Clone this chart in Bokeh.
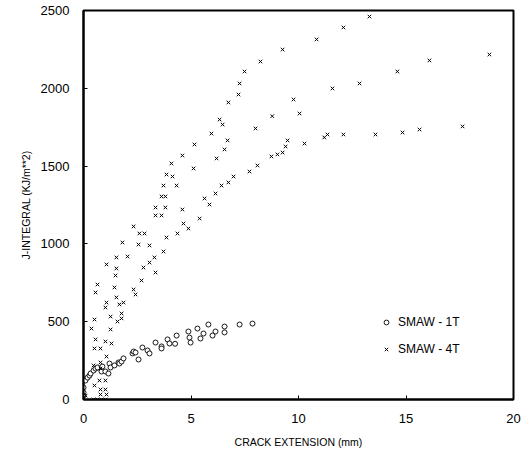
from bokeh.plotting import figure
from bokeh.models import Range1d, FixedTicker, Legend, LegendItem
from bokeh.embed import file_html
from bokeh.resources import INLINE

# SMAW - 1T (crack extension mm, J-integral kJ/m^2)
x_1t = [0, 0, 0, 0.09, 0.19, 0.28, 0.33, 0.47, 0.56, 0.65, 0.88, 0.84, 1.02, 1.16,
        1.21, 1.26, 1.44, 1.63, 1.67, 1.77, 1.86, 2.28, 2.33, 2.42, 2.56, 2.74, 2.98,
        3.07, 3.35, 3.63, 3.63, 3.91, 4.0, 4.26, 4.33, 4.88, 4.93, 4.98, 5.3, 5.44,
        5.58, 5.81, 6.0, 6.14, 6.56, 6.56, 7.26, 7.86]
j_1t = [77, 45, 26, 122, 141, 154, 167, 186, 199, 206, 212, 180, 180, 167,
        231, 206, 219, 238, 231, 244, 264, 296, 308, 302, 257, 334, 315,
        296, 366, 341, 328, 386, 360, 358, 411, 437, 398, 366, 456, 392,
        424, 482, 411, 437, 469, 431, 482, 488]

# SMAW - 4T
x_4t = [13.3, 12.09, 10.84, 9.26, 8.23, 7.49, 7.26, 7.21, 6.74, 6.33, 6.47, 5.95, 5.16,
        4.6, 4.09, 3.86, 4.14, 3.72, 4.33, 3.63, 3.81, 3.35, 3.81, 3.35, 3.63, 2.33,
        2.6, 2.84, 1.81, 2.56, 2.05, 1.53, 1.07, 1.53, 1.49, 0.65, 1.44, 0.56, 1.53,
        1.07, 1.86, 1.67, 1.02, 1.77, 1.26, 1.58, 1.77, 0.51, 0.37, 1.26, 0.56, 1.02,
        1.3, 0.51, 0.79, 1.07, 0.79, 0.47, 0.79, 0.74, 1.02, 0.51, 0.79, 1.02, 0.79,
        1.07, 0.47, 0.65, 0.84, 1.02, 0.0, 0.1,
        18.88, 16.09, 14.6, 12.84, 11.58, 9.77, 10.05, 8.78, 8.0, 6.7, 6.56, 6.19,
        5.12, 6.14, 5.63, 5.86, 5.4, 4.6, 4.65, 4.88, 4.37, 3.86, 3.72, 3.3, 3.07,
        3.07, 2.79, 3.35, 2.7, 2.33, 2.42,
        17.63, 15.63, 14.84, 13.58, 12.09, 11.35, 11.2, 10.28, 9.49, 9.4, 9.26, 9.02,
        8.74, 8.09, 7.72, 6.98, 6.74, 6.42]
j_4t = [2461, 2391, 2314, 2249, 2172, 2108, 2031, 1960, 1909, 1799, 1767, 1709, 1639,
        1568, 1517, 1446, 1433, 1375, 1375, 1305, 1305, 1234, 1234, 1183, 1183, 1112,
        1067, 1067, 1009, 996, 919, 913, 868, 842, 797, 739, 720, 688, 656,
        623, 623, 611, 591, 553, 533, 501, 521, 514, 456, 450, 386, 373,
        360, 328, 328, 276, 238, 219, 199, 122, 122, 90, 64, 64, 32,
        32, 0, 0, 0, 0, 0, 25,
        2217, 2179, 2108, 2031, 1999, 1928, 1838, 1821, 1742, 1665, 1607, 1549,
        1485, 1324, 1292, 1253, 1163, 1221, 1131, 1099, 1067, 1041, 951, 913, 880,
        990, 848, 816, 765, 707, 675,
        1755, 1735, 1716, 1703, 1703, 1703, 1684, 1645, 1665, 1626, 1587, 1575,
        1562, 1504, 1465, 1433, 1395, 1375]

x_ticks = [0, 5, 10, 15, 20]
y_ticks = [0, 500, 1000, 1500, 2000, 2500]

FONT = "Liberation Sans"

p = figure(width=528, height=456, output_backend="svg", toolbar_location=None,
           x_range=Range1d(0, 20), y_range=Range1d(0, 2500),
           min_border_left=83, min_border_right=15, min_border_top=10,
           min_border_bottom=57)
p.background_fill_color = "white"
p.border_fill_color = "white"
p.grid.visible = False
p.outline_line_color = "black"
p.outline_line_width = 2

for ax in (p.xaxis[0], p.yaxis[0]):
    ax.axis_line_color = "black"
    ax.axis_line_width = 2
    ax.major_tick_in = 4
    ax.major_tick_out = 0
    ax.minor_tick_in = 0
    ax.minor_tick_out = 0
    ax.major_tick_line_color = "black"
    ax.major_label_text_font = FONT
    ax.major_label_text_font_size = "13px"
    ax.major_label_text_color = "black"
    ax.axis_label_text_font = FONT
    ax.axis_label_text_font_size = "10.5px"
    ax.axis_label_text_font_style = "normal"
    ax.axis_label_text_color = "black"

p.xaxis[0].ticker = FixedTicker(ticks=x_ticks)
p.yaxis[0].ticker = FixedTicker(ticks=y_ticks)
p.xaxis[0].axis_label = "CRACK EXTENSION (mm)"
p.yaxis[0].axis_label = "J-INTEGRAL (KJ/m**2)"
p.xaxis[0].major_label_standoff = 14
p.yaxis[0].major_label_standoff = 14
p.xaxis[0].axis_label_standoff = 10
p.yaxis[0].axis_label_standoff = 6

r1 = p.scatter(x_1t, j_1t, marker="circle", size=5, fill_color="white",
               line_color="black", line_width=0.9)
r4 = p.scatter(x_4t, j_4t, marker="x", size=5, line_color="black", line_width=1)

legend = Legend(items=[LegendItem(label="SMAW - 1T", renderers=[r1]),
                       LegendItem(label="SMAW - 4T", renderers=[r4])],
                location=(297, 40), border_line_color=None,
                background_fill_alpha=0, padding=0, margin=0, spacing=7,
                label_height=20, glyph_width=12, glyph_height=12,
                label_standoff=6, label_text_font=FONT,
                label_text_font_size="12px", label_text_color="black")
p.add_layout(legend)

open("out.html", "w").write(file_html(p, INLINE))
